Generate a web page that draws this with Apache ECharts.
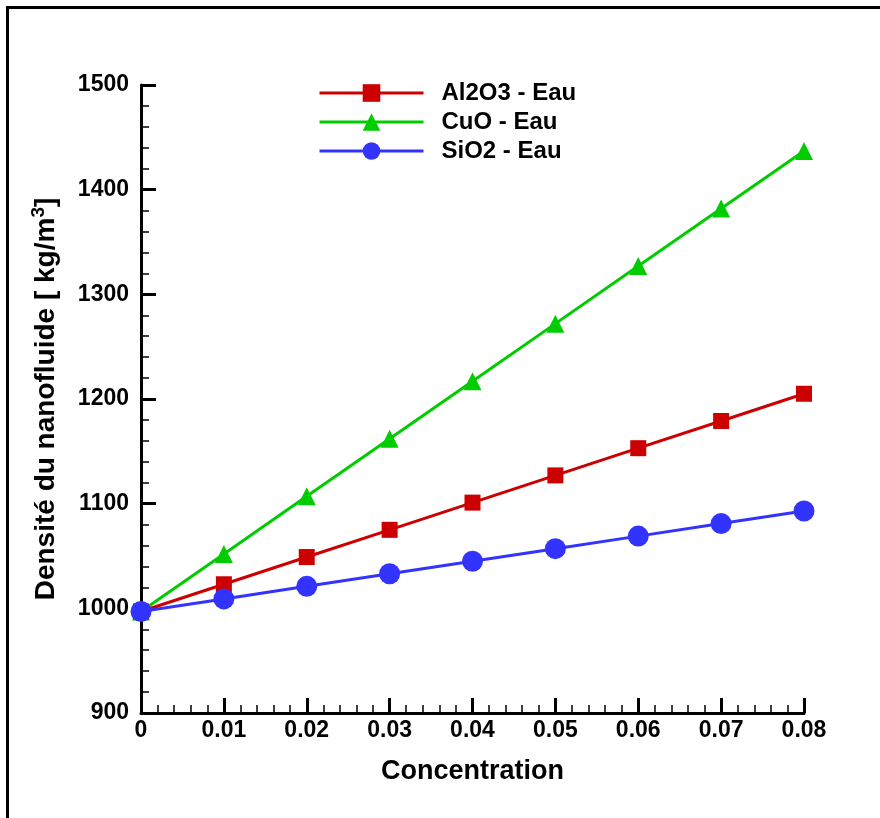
<!DOCTYPE html>
<html>
<head>
<meta charset="utf-8">
<script src="https://cdn.jsdelivr.net/npm/echarts@6/dist/echarts.min.js"></script>
<style>html,body{margin:0;padding:0;background:#fff;}#c{width:880px;height:818px;}</style>
</head>
<body>
<div id="c"></div>
<script>
const concentrations = [0, 0.01, 0.02, 0.03, 0.04, 0.05, 0.06, 0.07, 0.08];
const al2o3 = [997, 1023, 1049, 1075, 1101, 1127, 1153, 1179, 1205];
const cuo = [997, 1052, 1107, 1162, 1217, 1272, 1327, 1382, 1437];
const sio2 = [997, 1009, 1021, 1033, 1045, 1057, 1069, 1081, 1093];
const seriesNames = ['Al2O3 - Eau', 'CuO - Eau', 'SiO2 - Eau'];
const xTitle = 'Concentration';
const yTitle = 'Densité du nanofluide [ kg/m';

const FONT = "'Liberation Sans', Arial, Helvetica, sans-serif";
const pairs = arr => concentrations.map((c, i) => [c, arr[i]]);

const chart = echarts.init(document.getElementById('c'), null, {renderer: 'canvas'});
chart.setOption({
  animation: false,
  backgroundColor: '#ffffff',
  graphic: [{
    type: 'rect', left: 5, top: 5, z: 100,
    shape: {x: 0, y: 0, width: 900, height: 900},
    style: {fill: 'none', stroke: '#000', lineWidth: 3}
  }],
  grid: {left: 141, right: 76, top: 85, bottom: 105, containLabel: false},
  legend: {
    data: seriesNames,
    orient: 'vertical',
    left: 318, top: 81, padding: 0,
    itemWidth: 104, itemHeight: 22, itemGap: 5,
    lineStyle: {width: 3},
    textStyle: {fontFamily: FONT, fontWeight: 'bold', fontSize: 24, color: '#000', padding: [0, 0, 0, 13]}
  },
  xAxis: {
    type: 'value', min: 0, max: 0.08, interval: 0.01,
    name: xTitle, nameLocation: 'middle', nameGap: 45,
    nameTextStyle: {fontFamily: FONT, fontWeight: 'bold', fontSize: 27, color: '#000'},
    axisLine: {show: true, lineStyle: {color: '#000', width: 3}},
    axisTick: {show: true, inside: true, length: 15, lineStyle: {color: '#000', width: 3}},
    minorTick: {show: true, splitNumber: 5, length: 8, lineStyle: {color: '#000', width: 1.5}},
    splitLine: {show: false},
    axisLabel: {
      fontFamily: FONT, fontWeight: 'bold', fontSize: 23, color: '#000', margin: 6,
      formatter: v => v === 0 ? '0' : v.toFixed(2)
    }
  },
  yAxis: {
    type: 'value', min: 900, max: 1500, interval: 100,
    name: '{a|' + yTitle + '}{s|3}{a|]}', nameLocation: 'middle', nameGap: 80, nameRotate: 90,
    nameTextStyle: {
      rich: {
        a: {fontFamily: FONT, fontWeight: 'bold', fontSize: 28, color: '#000', lineHeight: 30},
        s: {fontFamily: FONT, fontWeight: 'bold', fontSize: 19, color: '#000', lineHeight: 19,
            verticalAlign: 'bottom', padding: [0, 0, 13, 0]}
      }
    },
    axisLine: {show: true, lineStyle: {color: '#000', width: 3}},
    axisTick: {show: true, inside: true, length: 15, lineStyle: {color: '#000', width: 3}},
    minorTick: {show: true, splitNumber: 5, length: 8, lineStyle: {color: '#000', width: 1.5}},
    splitLine: {show: false},
    axisLabel: {fontFamily: FONT, fontWeight: 'bold', fontSize: 23, color: '#000', margin: 12,
      formatter: v => String(v)}
  },
  series: [
    {
      name: seriesNames[1], type: 'line', data: pairs(cuo),
      symbol: 'triangle', symbolSize: 18,
      lineStyle: {color: '#00CC00', width: 3}, itemStyle: {color: '#00CC00'}
    },
    {
      name: seriesNames[0], type: 'line', data: pairs(al2o3),
      symbol: 'rect', symbolSize: 16,
      lineStyle: {color: '#CC0000', width: 3}, itemStyle: {color: '#CC0000'}
    },
    {
      name: seriesNames[2], type: 'line', data: pairs(sio2),
      symbol: 'circle', symbolSize: 21,
      lineStyle: {color: '#3333FF', width: 3}, itemStyle: {color: '#3333FF'}
    }
  ]
});
</script>
</body>
</html>
